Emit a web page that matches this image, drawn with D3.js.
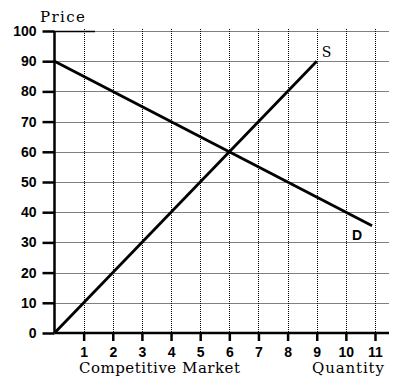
<!DOCTYPE html>
<html><head><meta charset="utf-8">
<script src="https://cdn.jsdelivr.net/npm/d3@7"></script>
<style>body{margin:0;background:#fff}svg{display:block}</style>
</head><body>
<svg id="c" width="415" height="388"></svg>
<script>
const xTicks = [1,2,3,4,5,6,7,8,9,10,11];
const yTicks = [0,10,20,30,40,50,60,70,80,90,100];
const supplyQ = [0, 9];
const supplyP = [0, 90];
const demandQ = [0, 10.9];
const demandP = [90, 35.5];
const curveLabels = ["S", "D"];

const svg = d3.select("#c");
const x = d3.scaleLinear().domain([0, 11]).range([54.5, 375]);
const y = d3.scaleLinear().domain([0, 100]).range([333, 31]);
const xRight = 389;
const sans = "Liberation Sans, Arial, sans-serif";
const serif = "DejaVu Serif, Liberation Serif, serif";

// grid
const g = svg.append("g");
g.selectAll(".hg").data(yTicks.filter(d => d > 0)).join("line")
  .attr("x1", x(0)).attr("x2", xRight)
  .attr("y1", d => Math.round(y(d)) + 0.5).attr("y2", d => Math.round(y(d)) + 0.5)
  .attr("stroke", "#000").attr("stroke-width", 1).attr("stroke-dasharray", "1,1");
g.selectAll(".vg").data(xTicks).join("line")
  .attr("x1", d => Math.round(x(d)) + 0.5).attr("x2", d => Math.round(x(d)) + 0.5)
  .attr("y1", y(100) - 2).attr("y2", y(0))
  .attr("stroke", "#000").attr("stroke-width", 1).attr("stroke-dasharray", "1,1");
g.append("line").attr("x1", x(0)).attr("x2", 95).attr("y1", Math.round(y(100)) + 0.5).attr("y2", Math.round(y(100)) + 0.5)
  .attr("stroke", "#000").attr("stroke-width", 1.5);

// axes
const yAxis = d3.axisLeft(y).tickValues(yTicks).tickSize(12).tickPadding(6).tickFormat(d3.format("d"));
const ya = svg.append("g").attr("transform", `translate(${x(0)},0)`).call(yAxis);
ya.select(".domain").attr("stroke-width", 2.5).attr("d", `M0,${y(100)}V${y(0)}`);
ya.selectAll(".tick line").attr("stroke-width", 2.5);
ya.selectAll("text").attr("font-family", sans).attr("font-weight", "bold").attr("font-size", 14).attr("fill", "#000");

const xAxis = d3.axisBottom(x).tickValues(xTicks).tickSize(8).tickPadding(6).tickFormat(d3.format("d"));
const xa = svg.append("g").attr("transform", `translate(0,${y(0)})`).call(xAxis);
xa.select(".domain").attr("stroke-width", 2.5).attr("d", `M${x(0)},0H${xRight}`);
xa.selectAll(".tick line").attr("stroke-width", 2.5);
xa.selectAll("text").attr("font-family", sans).attr("font-weight", "bold").attr("font-size", 14).attr("fill", "#000");

// curves
const line = d3.line().x(d => x(d[0])).y(d => y(d[1]));
svg.append("path").datum(supplyQ.map((q, i) => [q, supplyP[i]])).attr("d", line)
  .attr("fill", "none").attr("stroke", "#000").attr("stroke-width", 2.8);
svg.append("path").datum(demandQ.map((q, i) => [q, demandP[i]])).attr("d", line)
  .attr("fill", "none").attr("stroke", "#000").attr("stroke-width", 2.8);

svg.append("text").attr("x", x(supplyQ[1]) + 5).attr("y", y(supplyP[1]) - 4).text(curveLabels[0])
  .attr("font-family", serif).attr("font-size", 14);
svg.append("text").attr("x", x(demandQ[1]) - 20).attr("y", y(demandP[1]) + 14).text(curveLabels[1])
  .attr("font-family", sans).attr("font-weight", "bold").attr("font-size", 14);

// titles
svg.append("text").attr("x", 40).attr("y", 22).text("Price")
  .attr("font-family", serif).attr("font-size", 15).attr("textLength", 45);
svg.append("text").attr("x", 79).attr("y", 373).text("Competitive Market")
  .attr("font-family", serif).attr("font-size", 15).attr("textLength", 161);
svg.append("text").attr("x", 312).attr("y", 373).text("Quantity")
  .attr("font-family", serif).attr("font-size", 15).attr("textLength", 72);
</script>
</body></html>
